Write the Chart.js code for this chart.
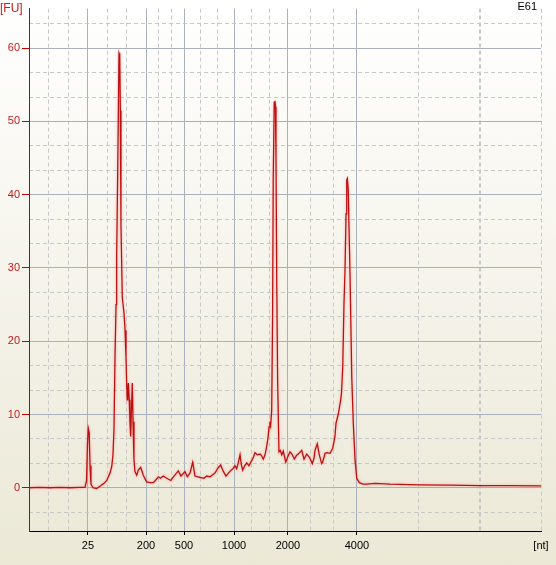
<!DOCTYPE html>
<html>
<head>
<meta charset="utf-8">
<script src="https://cdn.jsdelivr.net/npm/chart.js@4.4.1/dist/chart.umd.min.js"></script>
<style>
    html, body { margin: 0; padding: 0; }
    body { width: 556px; height: 565px; overflow: hidden; background: linear-gradient(#ffffff, #ebe8d6); }
    #wrap { position: relative; width: 556px; height: 565px; }
</style>
</head>
<body>
<div id="wrap"><canvas id="chart" width="556" height="565"></canvas></div>
<script>
// Electropherogram E61: migration time (s) against fluorescence [FU]
const xMin = 19;
const xMax = 69;
const yMin = -5.9;
const yMax = 65.4;

// ladder sizes [nt] and where they sit on the time axis
const ladderTimes = [24.76, 30.43, 34.14, 39.02, 44.29, 51.03];
const ladderLabels = ['25', '200', '500', '1000', '2000', '4000'];
const yTicks = [0, 10, 20, 30, 40, 50, 60];

const times = [
    19.00, 20.07, 21.05, 22.03, 23.00, 23.98, 24.47, 24.62, 24.71, 24.79,
    24.88, 24.96, 25.05, 25.25, 25.61, 25.93, 26.32, 26.59, 26.91, 27.08,
    27.20, 27.30, 27.40, 27.50, 27.56, 27.66, 27.74, 27.79, 27.86, 27.92,
    27.98, 28.11, 28.28, 28.38, 28.47, 28.54, 28.59, 28.64, 28.70, 28.79,
    28.86, 28.93, 28.99, 29.09, 29.16, 29.25, 29.35, 29.52, 29.67, 29.91,
    30.16, 30.49, 30.82, 31.14, 31.40, 31.63, 31.84, 32.12, 32.45, 32.84,
    33.16, 33.58, 33.84, 34.23, 34.46, 34.72, 34.99, 35.21, 35.50, 35.80,
    36.09, 36.35, 36.68, 36.97, 37.16, 37.46, 37.72, 37.95, 38.24, 38.48,
    38.73, 38.92, 39.11, 39.28, 39.45, 39.61, 39.73, 39.87, 40.06, 40.26,
    40.48, 40.75, 40.92, 41.07, 41.29, 41.56, 41.70, 41.88, 42.05, 42.21,
    42.34, 42.44, 42.53, 42.60, 42.70, 42.79, 42.85, 42.95, 43.02, 43.07,
    43.12, 43.19, 43.28, 43.41, 43.54, 43.68, 43.83, 44.07, 44.29, 44.49,
    44.68, 44.91, 45.12, 45.37, 45.63, 45.86, 46.12, 46.37, 46.67, 46.83,
    46.93, 47.15, 47.35, 47.58, 47.68, 47.91, 48.10, 48.40, 48.66, 48.88,
    48.98, 49.21, 49.44, 49.52, 49.64, 49.76, 49.86, 49.96, 50.03, 50.09,
    50.18, 50.25, 50.35, 50.52, 50.67, 50.84, 51.01, 51.26, 51.62, 51.98,
    52.79, 54.26, 57.18, 60.11, 63.04, 65.97, 69.00
];
const fu = [
    0.0, 0.05, 0.0, 0.05, 0.0, 0.05, 0.05, 1.0, 6.0, 8.1,
    7.5, 3.0, 0.5, 0.0, -0.1, 0.2, 0.6, 1.0, 2.0, 2.9,
    4.5, 7.9, 17.9, 25.0, 31.5, 42.9, 53.0, 59.3, 59.0, 51.5,
    36.1, 26.0, 23.8, 21.5, 17.9, 14.2, 12.0, 13.0, 14.3, 12.0,
    9.0, 7.0, 10.0, 14.3, 9.0, 3.8, 2.2, 1.7, 2.4, 2.8,
    1.7, 0.8, 0.7, 0.7, 1.1, 1.5, 1.3, 1.6, 1.3, 1.0,
    1.6, 2.3, 1.6, 2.2, 1.5, 2.0, 3.5, 1.6, 1.5, 1.4,
    1.3, 1.6, 1.5, 1.8, 2.0, 2.7, 3.1, 2.3, 1.6, 2.0,
    2.4, 2.6, 3.0, 2.6, 3.5, 4.5, 3.2, 2.4, 3.0, 3.4,
    3.0, 3.7, 4.2, 4.8, 4.5, 4.6, 4.4, 3.9, 4.5, 5.6,
    6.8, 8.3, 9.0, 8.5, 10.6, 23.8, 42.0, 52.6, 52.8, 52.0,
    45.2, 28.8, 14.7, 4.9, 5.1, 4.5, 5.0, 3.5, 4.3, 4.9,
    4.6, 3.9, 4.4, 4.7, 5.1, 3.9, 4.6, 4.2, 3.3, 4.0,
    5.1, 6.0, 4.5, 3.3, 3.5, 4.7, 4.8, 4.7, 5.4, 7.0,
    8.8, 10.1, 12.0, 13.0, 16.5, 25.1, 29.7, 37.4, 42.0, 42.2,
    40.6, 35.6, 29.2, 15.1, 8.8, 3.8, 1.3, 0.7, 0.5, 0.5,
    0.6, 0.5, 0.4, 0.35, 0.3, 0.28, 0.25
];

// dashed grid lines split every labelled interval in three
function minorXTicks() {
    const edges = [xMin].concat(ladderTimes, [xMax]);
    const out = [];
    for (let i = 0; i < edges.length - 1; i++) {
        const step = (edges[i + 1] - edges[i]) / 3;
        out.push(edges[i] + step, edges[i] + 2 * step);
    }
    out.push(xMax);
    return out.map(v => ({ value: v }));
}

function minorYTicks() {
    const out = [];
    for (let k = -1; k <= 19; k++) {
        if (k % 3 !== 0) out.push({ value: k * 10 / 3 });
    }
    return out;
}

const glowPlugin = {
    id: 'glow',
    beforeDatasetsDraw(chart) {
        const ctx = chart.ctx;
        ctx.save();
        ctx.shadowColor = 'rgba(255, 110, 110, 0.6)';
        ctx.shadowBlur = 3;
    },
    afterDatasetsDraw(chart) {
        chart.ctx.restore();
    }
};

const labelsPlugin = {
    id: 'cornerLabels',
    afterDraw(chart) {
        const ctx = chart.ctx;
        ctx.save();
        ctx.textBaseline = 'middle';
        ctx.font = '12px "Liberation Sans"';
        ctx.fillStyle = '#c81818';
        ctx.textAlign = 'left';
        ctx.fillText('[FU]', 0, 9);
        ctx.font = '11px "Liberation Sans"';
        ctx.fillStyle = '#000000';
        ctx.textAlign = 'right';
        ctx.fillText('E61', 537, 7);
        ctx.textAlign = 'center';
        ctx.fillText('[nt]', 541, 546);
        ctx.restore();
    }
};

Chart.defaults.font.family = '"Liberation Sans", sans-serif';
Chart.defaults.font.size = 11;

new Chart(document.getElementById('chart'), {
    type: 'line',
    data: {
        datasets: [{
            label: 'E61',
            data: times.map((t, i) => ({ x: t, y: fu[i] })),
            borderColor: '#bc1010',
            borderWidth: 1.3,
            pointRadius: 0,
            tension: 0,
            fill: false
        }]
    },
    options: {
        responsive: false,
        animation: false,
        events: [],
        layout: { padding: { top: 8, right: 15, left: 0, bottom: 0 } },
        plugins: {
            legend: { display: false },
            tooltip: { enabled: false }
        },
        scales: {
            x: {
                type: 'linear',
                position: 'bottom',
                min: xMin,
                max: xMax,
                afterBuildTicks: s => { s.ticks = ladderTimes.map(v => ({ value: v })); },
                afterFit: s => { s.height = 34; },
                ticks: {
                    color: '#000000',
                    autoSkip: false,
                    maxRotation: 0,
                    padding: 4,
                    callback: (value, index) => ladderLabels[index]
                },
                grid: { color: '#a9b1bd', tickColor: '#000000', tickLength: 4 },
                border: { color: '#000000', width: 1 }
            },
            xMinor: {
                type: 'linear',
                position: 'bottom',
                min: xMin,
                max: xMax,
                afterBuildTicks: s => { s.ticks = minorXTicks(); },
                afterFit: s => { s.height = 0; },
                ticks: { display: false },
                grid: {
                    color: '#c8c8c8',
                    drawTicks: false,
                    // the second dashed line after 4000 is drawn heavier in the original
                    lineWidth: ctx => (ctx.index === 13 ? 2 : 1)
                },
                border: { display: false, dash: [4, 3] }
            },
            y: {
                type: 'linear',
                position: 'left',
                min: yMin,
                max: yMax,
                afterBuildTicks: s => { s.ticks = yTicks.map(v => ({ value: v })); },
                afterFit: s => { s.width = 29; },
                ticks: { color: '#c81818', padding: 2 },
                grid: { color: '#a9b1bd', tickColor: '#c00000', tickLength: 7 },
                border: { color: '#c00000', width: 1 }
            },
            yMinor: {
                type: 'linear',
                position: 'left',
                min: yMin,
                max: yMax,
                afterBuildTicks: s => { s.ticks = minorYTicks(); },
                afterFit: s => { s.width = 0; },
                ticks: { display: false },
                grid: { color: '#c8c8c8', drawTicks: false },
                border: { display: false, dash: [4, 3] }
            }
        }
    },
    plugins: [glowPlugin, labelsPlugin]
});
</script>
</body>
</html>
